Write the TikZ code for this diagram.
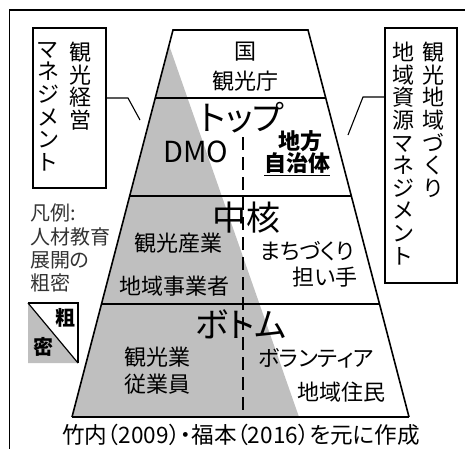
\documentclass[tikz,border=0pt]{standalone}
\usepackage{fontspec}
\setmainfont{Noto Sans CJK JP}[RawFeature=+palt]
\definecolor{pgray}{RGB}{191,191,191}
\tikzset{
  lbl/.style={inner sep=0pt, font=\fontsize{22}{26}\selectfont},
  blbl/.style={inner sep=0pt, font=\fontsize{22}{26}\selectfont\bfseries},
  ttl/.style={inner sep=0pt, font=\fontsize{34}{40}\selectfont},
  vcol/.style={inner sep=0pt, anchor=north, align=center, font=\fontsize{22}{22.6}\selectfont},
  mbox/.style={draw, line width=1.2pt, inner sep=0pt},
  conn/.style={line width=1.1pt},
  tier/.style={line width=2.3pt},
  side/.style={line width=1.6pt},
}
\begin{document}
\begin{tikzpicture}[x=1pt,y=-1pt]
\useasboundingbox (0,0) rectangle (465,448);
% outer frame (extends beyond picture)
\begin{scope}
\clip (0,0) rectangle (465,448);
\draw[line width=1.2pt] (9.5,10) rectangle (480,470);
\end{scope}
% pyramid coordinates
\coordinate (t1) at (173,30);   \coordinate (t2) at (308,30);
\coordinate (a1) at (155.3,98); \coordinate (a2) at (325.7,98);
\coordinate (b1) at (129.7,196);\coordinate (b2) at (351.3,196);
\coordinate (c1) at (101.5,304);\coordinate (c2) at (379.5,304);
\coordinate (d1) at (72,417);   \coordinate (d2) at (409,417);
\coordinate (g0) at (169,45);   \coordinate (g1) at (299,417);
% gray density triangle
\fill[pgray] (g0) -- (g1) -- (d1) -- cycle;
% dashed divider
\coordinate (k0) at (243,137); \coordinate (k1) at (243,417);
\draw[line width=2.3pt, dash pattern=on 13pt off 7pt] (k0) -- (k1);
% tiers
\draw[tier] (a1) -- (a2);
\draw[tier] (b1) -- (b2);
\draw[tier] (c1) -- (c2);
\draw[side] (d1) -- (t1) -- (t2) -- (d2);
\draw[line width=2pt] (d1) -- (d2);
% texts in pyramid
\node[lbl] (kuni) at (245,52) {国};
\node[lbl] (kcho) at (245,81) {観光庁};
\node[ttl] (top) at (242,118) {トップ};
\node[inner sep=0pt, font=\fontsize{29}{32}\selectfont] (dmo) at (196,152) {DMO};
\node[blbl] (chiho) at (300,141) {地方};
\node[blbl] (jichi) at (297,164) {\underline{自治体}};
\node[ttl] (chukaku) at (246,218) {中核};
\node[lbl] (sangyo) at (178,243) {観光産業};
\node[lbl] (jigyo) at (174,286) {地域事業者};
\node[lbl] (machi) at (307,251) {まちづくり};
\node[lbl] (ninai) at (325,277) {担い手};
\node[ttl] (bottom) at (241,324) {ボトム};
\node[lbl] (kgyo) at (157,357) {観光業};
\node[lbl] (jugyo) at (157,384) {従業員};
\node[lbl] (vol) at (316,358) {ボランティア};
\node[lbl] (jumin) at (341,392) {地域住民};
% left box
\node[mbox, minimum width=73pt, minimum height=160pt] (lbox) at (69.5,108) {};
\node[vcol] (l1) at (80,42) {観\\光\\経\\営};
\node[vcol] (l2) at (48,42) {マ\\ネ\\ジ\\メ\\ン\\ト};
\coordinate (lk) at (128,98); \coordinate (lc) at (140,120);
\draw[conn] (lbox.east |- lk) -- (lk) -- (lc);
% right box
\node[mbox, minimum width=72pt, minimum height=255pt] (rbox) at (421,155.5) {};
\node[vcol] (r1) at (433,42) {観\\光\\地\\域\\づ\\く\\り};
\node[vcol] (r2) at (403,42) {地\\域\\資\\源\\マ\\ネ\\ジ\\メ\\ン\\ト};
\coordinate (rk) at (363,97); \coordinate (rc) at (348,135);
\draw[conn] (rbox.west |- rk) -- (rk) -- (rc);
% legend
\node[inner sep=0pt, anchor=north west, align=left, text=black!80,
      font=\fontsize{20}{23.3}\selectfont] (leg) at (30,204) {凡例:\\人材教育\\展開の\\粗密};
\coordinate (q1) at (28,303); \coordinate (q2) at (78,303);
\coordinate (q3) at (78,363); \coordinate (q4) at (28,363);
\fill[pgray] (q1) -- (q3) -- (q4) -- cycle;
\draw[line width=1.2pt] (q1) -- (q2) -- (q3);
\draw[line width=1.2pt] (q1) -- (q3);
\node[inner sep=0pt, font=\fontsize{20}{24}\selectfont\bfseries] (so) at (65,318) {粗};
\node[inner sep=0pt, font=\fontsize{20}{24}\selectfont\bfseries] (mitsu) at (43,347) {密};
% caption
\node[inner sep=0pt, font=\fontsize{22.6}{26}\selectfont] (cap) at (241,435) {竹内（2009）・福本（2016）を元に作成};
\end{tikzpicture}
\end{document}
